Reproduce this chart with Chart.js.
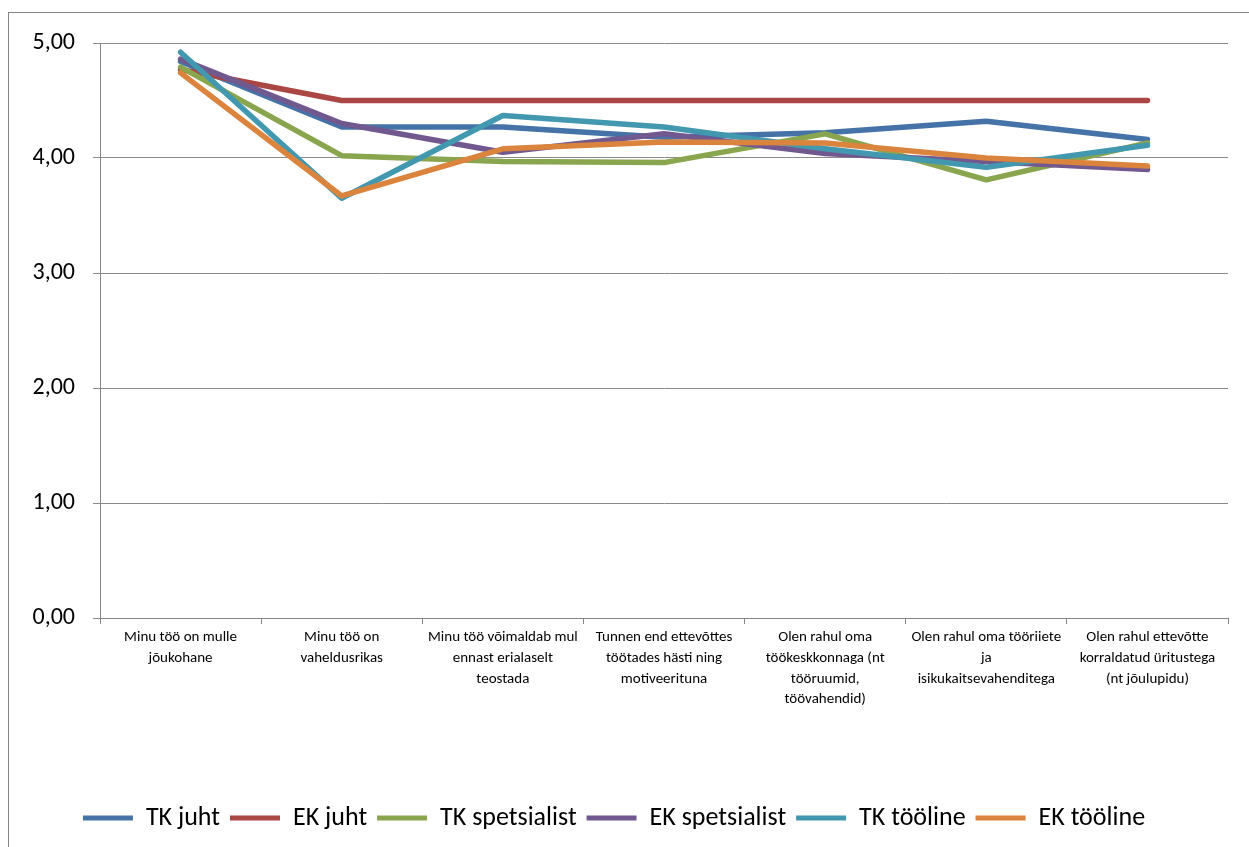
<!DOCTYPE html>
<html>
<head>
<meta charset="utf-8">
<script src="https://cdn.jsdelivr.net/npm/chart.js@4/dist/chart.umd.min.js"></script>
<style>
  html, body { margin: 0; padding: 0; background: #fff; overflow: hidden; }
  #wrap { position: relative; width: 1249px; height: 847px; }
</style>
</head>
<body>
<div id="wrap"><canvas id="c" width="1249" height="847"></canvas></div>
<script>
const categories = [
  ['Minu töö on mulle', 'jõukohane'],
  ['Minu töö on', 'vaheldusrikas'],
  ['Minu töö võimaldab mul', 'ennast erialaselt', 'teostada'],
  ['Tunnen end ettevõttes', 'töötades hästi ning', 'motiveerituna'],
  ['Olen rahul oma', 'töökeskkonnaga (nt', 'tööruumid,', 'töövahendid)'],
  ['Olen rahul oma tööriiete', 'ja', 'isikukaitsevahenditega'],
  ['Olen rahul ettevõtte', 'korraldatud üritustega', '(nt jõulupidu)']
];
const seriesNames = ['TK juht', 'EK juht', 'TK spetsialist', 'EK spetsialist', 'TK tööline', 'EK tööline'];
const tkJuht        = [4.84, 4.27, 4.27, 4.18, 4.22, 4.32, 4.16];
const ekJuht        = [4.77, 4.50, 4.50, 4.50, 4.50, 4.50, 4.50];
const tkSpetsialist = [4.79, 4.02, 3.97, 3.96, 4.21, 3.81, 4.13];
const ekSpetsialist = [4.86, 4.30, 4.05, 4.21, 4.04, 3.97, 3.90];
const tkTooline     = [4.92, 3.65, 4.37, 4.27, 4.08, 3.92, 4.11];
const ekTooline     = [4.74, 3.67, 4.08, 4.14, 4.13, 4.00, 3.93];
const yTickLabels = ['0,00', '1,00', '2,00', '3,00', '4,00', '5,00'];
const colors = ['#4572A7', '#AA4643', '#89A54E', '#71588F', '#4198AF', '#DB843D'];

const seriesValues = [tkJuht, ekJuht, tkSpetsialist, ekSpetsialist, tkTooline, ekTooline];
const FONT = 'Carlito, Lato, "Liberation Sans", sans-serif';

const frame = {
  id: 'frame',
  beforeDraw(chart) {
    const ctx = chart.ctx;
    ctx.save();
    ctx.strokeStyle = '#868686';
    ctx.lineWidth = 1;
    ctx.strokeRect(8.5, 12.5, 1400, 1000);
    ctx.restore();
  }
};

new Chart(document.getElementById('c'), {
  type: 'line',
  data: {
    labels: categories,
    datasets: seriesValues.map((vals, i) => ({
      label: seriesNames[i],
      data: vals,
      borderColor: colors[i],
      backgroundColor: colors[i],
      borderWidth: 5.5,
      pointRadius: 0,
      pointHoverRadius: 0,
      tension: 0,
      borderCapStyle: 'round',
      borderJoinStyle: 'round',
      order: seriesValues.length - i
    }))
  },
  options: {
    responsive: false,
    animation: false,
    events: [],
    layout: { padding: { top: 43, right: 21, bottom: 6, left: 0 } },
    plugins: {
      tooltip: { enabled: false },
      legend: {
        position: 'bottom',
        labels: {
          color: '#000',
          font: { family: FONT, size: 26 },
          boxWidth: 50,
          boxHeight: 5,
          padding: 10,
          sort: (a, b) => a.datasetIndex - b.datasetIndex,
          generateLabels(chart) {
            const items = Chart.defaults.plugins.legend.labels.generateLabels(chart);
            return items.map(it => Object.assign(it, { lineWidth: 0, fillStyle: it.strokeStyle }));
          }
        }
      }
    },
    scales: {
      x: {
        offset: true,
        afterFit(scale) { scale.height = 177; },
        grid: { offset: true, drawOnChartArea: false, drawTicks: true, tickLength: 6, color: '#868686' },
        border: { color: '#868686', width: 1 },
        ticks: {
          color: '#000',
          font: { family: FONT, size: 15, lineHeight: 1.38 },
          maxRotation: 0,
          minRotation: 0,
          autoSkip: false,
          padding: 3
        }
      },
      y: {
        min: 0,
        max: 5,
        afterFit(scale) { scale.width = 100; },
        grid: { color: '#8a8a8a', lineWidth: 1, drawTicks: true, tickLength: 7 },
        border: { color: '#868686', width: 1 },
        ticks: {
          stepSize: 1,
          color: '#000',
          font: { family: FONT, size: 24 },
          padding: 18,
          callback: (v, i) => yTickLabels[i]
        }
      }
    }
  },
  plugins: [frame]
});
</script>
</body>
</html>
